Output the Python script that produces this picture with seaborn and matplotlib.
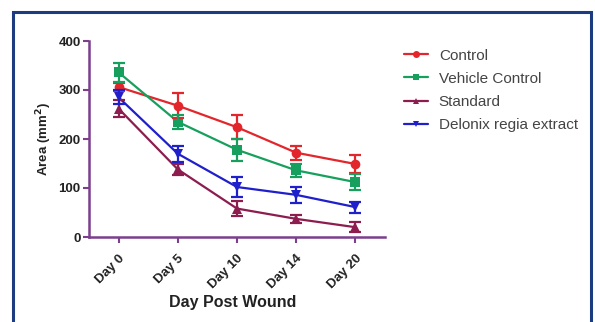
import numpy as np
import pandas as pd
import matplotlib
matplotlib.use("Agg")
import matplotlib.pyplot as plt
import seaborn as sns
from matplotlib.patches import Rectangle

# data
days = ["Day 0", "Day 5", "Day 10", "Day 14", "Day 20"]
groups = ["Control", "Vehicle Control", "Standard", "Delonix regia extract"]
control = [306, 268, 224, 172, 149]
control_err = [8, 26, 24, 14, 18]
vehicle = [336, 235, 178, 136, 112]
vehicle_err = [20, 14, 22, 13, 16]
standard = [262, 138, 58, 37, 20]
standard_err = [17, 12, 16, 8, 10]
delonix = [285, 170, 102, 86, 61]
delonix_err = [14, 16, 20, 16, 11]

colors = ["#e3262b", "#17a05d", "#8c1d4e", "#1f1fcc"]
markers = ["o", "s", "^", "v"]
axis_col = "#7b3f8e"

values = [control, vehicle, standard, delonix]
errors = [control_err, vehicle_err, standard_err, delonix_err]

rows = []
for g, v, e in zip(groups, values, errors):
    for i, d in enumerate(days):
        rows.append({"group": g, "day": d, "pos": i, "area": v[i], "err": e[i]})
df = pd.DataFrame(rows)

sns.set_style("white")
plt.rcParams['font.family'] = ['Liberation Sans', 'DejaVu Sans']

fig = plt.figure(figsize=(5.95, 3.22), dpi=100)
ax = fig.add_axes([89 / 595, 1 - 237 / 322, 296 / 595, 196 / 322])

sns.lineplot(data=df, x="pos", y="area", hue="group", style="group",
             hue_order=groups, style_order=groups,
             palette=colors, markers=markers, dashes=False,
             markersize=7, linewidth=1.6, markeredgewidth=0, ax=ax)

for g, c in zip(groups, colors):
    sub = df[df.group == g]
    ax.errorbar(sub.pos, sub.area, yerr=sub.err, fmt="none", ecolor=c,
                elinewidth=1.6, capsize=4, capthick=1.6)

ax.set_xlim(-0.5, 4.5)
ax.set_ylim(0, 400)
ax.set_xticks(range(len(days)))
ax.set_xticklabels(days, rotation=45, ha="right", rotation_mode="anchor",
                   fontsize=9.5, fontweight="bold", color="#222222")
ax.set_yticks([0, 100, 200, 300, 400])
ax.set_yticklabels(["0", "100", "200", "300", "400"], fontsize=9.5,
                   fontweight="bold", color="#222222")
ax.tick_params(axis="both", direction="out", length=4, width=1.5, color=axis_col,
               pad=2, bottom=True, left=True)
ax.tick_params(axis="x", pad=7)
for s in ["top", "right"]:
    ax.spines[s].set_visible(False)
for s in ["left", "bottom"]:
    ax.spines[s].set_color(axis_col)
    ax.spines[s].set_linewidth(1.8)
ax.set_xlabel("Day Post Wound", fontsize=11.5, fontweight="bold", color="#222222")
ax.xaxis.set_label_coords((233 - 89) / 296, (237 - 303) / 196)
ax.xaxis.label.set_va("center")
ax.set_ylabel("Area (mm$^\\mathbf{2}$)", fontsize=9.5, fontweight="bold", labelpad=3,
              color="#222222")

handles, labels = ax.get_legend_handles_labels()
for h in handles:
    h.set_markersize(5)
ax.legend(handles, labels, loc="upper left", bbox_to_anchor=(396 / 595, 1 - 41 / 322),
          bbox_transform=fig.transFigure, frameon=False, fontsize=11,
          handlelength=1.6, labelspacing=0.6, handletextpad=0.7,
          labelcolor="#444444", borderpad=0)

# blue frame around the figure
fig.patches.append(Rectangle((13 / 595, -0.05), 578 / 595, 1 - 12 / 322 + 0.05,
                             transform=fig.transFigure, fill=False,
                             edgecolor="#1c3b80", linewidth=2.2))

fig.savefig("out.png", dpi=100)
